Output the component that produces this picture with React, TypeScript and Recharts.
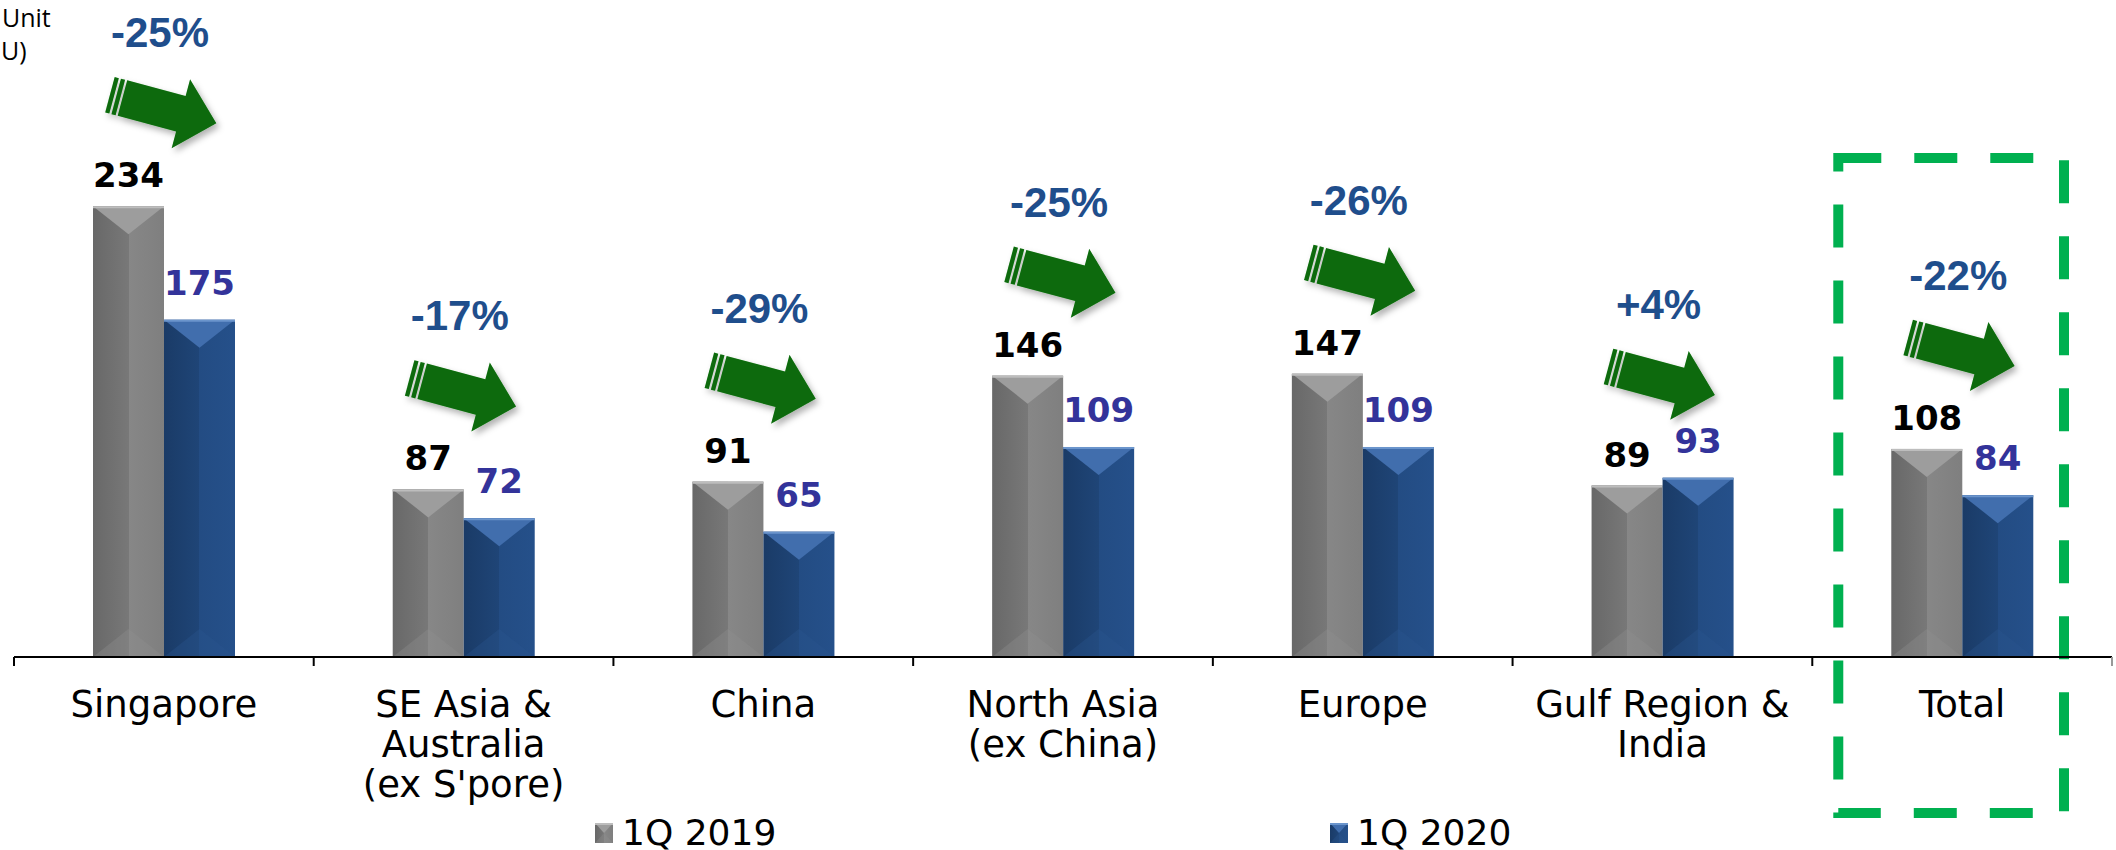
import React from "react";
import { BarChart, Bar, XAxis, YAxis, LabelList, Legend, ReferenceArea } from "recharts";

const categories = [
  "Singapore",
  "SE Asia &\nAustralia\n(ex S'pore)",
  "China",
  "North Asia\n(ex China)",
  "Europe",
  "Gulf Region &\nIndia",
  "Total",
];
const q2019 = [234, 87, 91, 146, 147, 89, 108];
const q2020 = [175, 72, 65, 109, 109, 93, 84];
const changes = ["-25%", "-17%", "-29%", "-25%", "-26%", "+4%", "-22%"];

const data = categories.map((name, i) => ({
  name,
  q2019: q2019[i],
  q2020: q2020[i],
  change: changes[i],
}));

const W = 2116;
const H = 850;
const MARGIN = { top: 79, right: 4, bottom: 0, left: 14 };
const BAND = (W - MARGIN.left - MARGIN.right) / categories.length;
const FONT = "'DejaVu Sans', sans-serif";

const PALETTE: Record<string, { grad: string; top: string; edge: string; base: string }> = {
  gray: { grad: "url(#grayBody)", top: "#9d9d9d", edge: "#bdbdbd", base: "#8e8e8e" },
  blue: { grad: "url(#blueBody)", top: "#416ead", edge: "#6b95cc", base: "#2a5690" },
};

const makeBarShape = (kind: string) => (props: any) => {
  const { x, y, width: w, height: h } = props;
  if (!h || h <= 0) return null;
  const p = PALETTE[kind];
  const bevel = Math.min(28, h / 2);
  return (
    <g>
      <rect x={x} y={y} width={w} height={h} fill={p.grad} />
      <polygon points={`${x},${y} ${x + w},${y} ${x + w / 2},${y + bevel}`} fill={p.top} />
      <polygon
        points={`${x},${y + h} ${x + w},${y + h} ${x + w / 2},${y + h - bevel}`}
        fill={p.base}
        opacity={0.35}
      />
      <line x1={x} x2={x + w} y1={y + 1} y2={y + 1} stroke={p.edge} strokeWidth={2} />
    </g>
  );
};

function arrowPoints(cx: number, cy: number, pts: number[][]) {
  const a = (15 * Math.PI) / 180;
  const c = Math.cos(a);
  const s = Math.sin(a);
  const k = 1.08;
  return pts
    .map(([px, py]) => `${cx + (px * c - py * s) * k},${cy + (px * s + py * c) * k}`)
    .join(" ");
}

function GreenArrow({ cx, cy }: { cx: number; cy: number }) {
  const body = [[-36, -17], [20, -17], [20, -33], [54, 0], [20, 33], [20, 17], [-36, 17]];
  const s1 = [[-48, -17], [-44, -17], [-44, 17], [-48, 17]];
  const s2 = [[-42, -17], [-38, -17], [-38, 17], [-42, 17]];
  return (
    <g filter="url(#arrowShadow)">
      <polygon points={arrowPoints(cx, cy, body)} fill="#086b08" />
      <polygon points={arrowPoints(cx, cy, s1)} fill="#086b08" />
      <polygon points={arrowPoints(cx, cy, s2)} fill="#086b08" />
    </g>
  );
}

// value on the 2019 bar plus the change arrow above the taller bar of the pair
function GrayLabel(props: any) {
  const { x, y, width, height, value, index } = props;
  const row = data[index];
  const unit = height / value;
  const maxTop = y + height - Math.max(row.q2019, row.q2020) * unit;
  const center = x + width - 4;
  return (
    <g>
      <text x={x + width / 2} y={y - 19} textAnchor="middle" fontFamily={FONT} fontWeight="bold" fontSize={34} fill="#000">
        {value}
      </text>
      <GreenArrow cx={center} cy={maxTop - 98} />
      <text
        x={center}
        y={maxTop - 159}
        textAnchor="middle"
        fontFamily="'Liberation Sans', Arial, sans-serif"
        fontWeight="bold"
        fontSize={42}
        fill="#1f4e8c"
      >
        {row.change}
      </text>
    </g>
  );
}

function BlueLabel(props: any) {
  const { x, y, width, value } = props;
  return (
    <text x={x + width / 2} y={y - 25} textAnchor="middle" fontFamily={FONT} fontWeight="bold" fontSize={34} fill="#33339a">
      {value}
    </text>
  );
}

function CategoryTick(props: any) {
  const { x, y, payload, index } = props;
  const lines = String(payload.value).split("\n");
  const left = x - BAND / 2;
  return (
    <g>
      <line x1={left} x2={left} y1={y} y2={y + 9} stroke="#000" strokeWidth={2} />
      {index === categories.length - 1 && (
        <line x1={x + BAND / 2} x2={x + BAND / 2} y1={y} y2={y + 9} stroke="#999" strokeWidth={2} />
      )}
      <text x={x} y={y + 60} textAnchor="middle" fontFamily={FONT} fontSize={37} fill="#000">
        {lines.map((l, i) => (
          <tspan key={i} x={x} dy={i === 0 ? 0 : 40}>
            {l}
          </tspan>
        ))}
      </text>
    </g>
  );
}

function LegendIcon({ kind }: { kind: string }) {
  return (
    <svg width={20} height={22} style={{ display: "block" }}>
      {makeBarShape(kind)({ x: 1, y: 1, width: 18, height: 20 })}
    </svg>
  );
}

function renderLegend() {
  const items = [
    { label: "1Q 2019", kind: "gray", left: 594 },
    { label: "1Q 2020", kind: "blue", left: 1329 },
  ];
  return (
    <div style={{ position: "relative", width: 0, height: 0 }}>
      {items.map((it) => (
        <div
          key={it.label}
          style={{
            position: "absolute",
            left: it.left,
            top: 812,
            display: "flex",
            alignItems: "center",
            gap: 8,
            whiteSpace: "nowrap",
            fontFamily: FONT,
            fontSize: 36,
            color: "#000",
          }}
        >
          <LegendIcon kind={it.kind} />
          <span>{it.label}</span>
        </div>
      ))}
    </div>
  );
}

function DashedBox(props: any) {
  const { x, y, width, height } = props;
  return (
    <rect
      x={x + 26}
      y={y}
      width={width - 74}
      height={height}
      fill="none"
      stroke="#00b050"
      strokeWidth={10}
      strokeDasharray="43 33"
    />
  );
}

export default function App() {
  return (
    <div style={{ position: "absolute", left: 0, top: 0, width: W, height: H, background: "#fff" }}>
      <BarChart width={W} height={H} data={data} margin={MARGIN} barGap={0} barSize={71}>
        <defs>
          <linearGradient id="grayBody" x1="0" y1="0" x2="1" y2="0">
            <stop offset="0" stopColor="#686868" />
            <stop offset="0.5" stopColor="#787878" />
            <stop offset="0.5" stopColor="#878787" />
            <stop offset="1" stopColor="#7f7f7f" />
          </linearGradient>
          <linearGradient id="blueBody" x1="0" y1="0" x2="1" y2="0">
            <stop offset="0" stopColor="#1a3b67" />
            <stop offset="0.5" stopColor="#1f4577" />
            <stop offset="0.5" stopColor="#234c83" />
            <stop offset="1" stopColor="#25508a" />
          </linearGradient>
          <filter id="arrowShadow" x="-30%" y="-30%" width="160%" height="160%">
            <feDropShadow dx="3" dy="4" stdDeviation="3" floodColor="#000" floodOpacity="0.3" />
          </filter>
        </defs>
        <XAxis
          dataKey="name"
          height={H - 657}
          tickLine={false}
          tickSize={0}
          tickMargin={0}
          interval={0}
          axisLine={{ stroke: "#000", strokeWidth: 2 }}
          tick={<CategoryTick />}
        />
        <YAxis hide domain={[0, 300]} />
        <ReferenceArea x1="Total" x2="Total" y1={-81} y2={259} ifOverflow="visible" shape={<DashedBox />} />
        <Bar dataKey="q2019" name="1Q 2019" isAnimationActive={false} shape={makeBarShape("gray")}>
          <LabelList dataKey="q2019" content={<GrayLabel />} />
        </Bar>
        <Bar dataKey="q2020" name="1Q 2020" isAnimationActive={false} shape={makeBarShape("blue")}>
          <LabelList dataKey="q2020" content={<BlueLabel />} />
        </Bar>
        <Legend
          content={renderLegend}
          wrapperStyle={{ position: "absolute", left: 0, top: 0, width: 0, height: 0 }}
        />
      </BarChart>
      <svg width={80} height={75} style={{ position: "absolute", left: 0, top: 0 }}>
        <text x={2} y={27} fontFamily="'Open Sans', sans-serif" fontSize={25} fill="#000">
          Unit
        </text>
        <text x={1} y={60} fontFamily="'Open Sans', sans-serif" fontSize={25} fill="#000">
          U)
        </text>
      </svg>
    </div>
  );
}
